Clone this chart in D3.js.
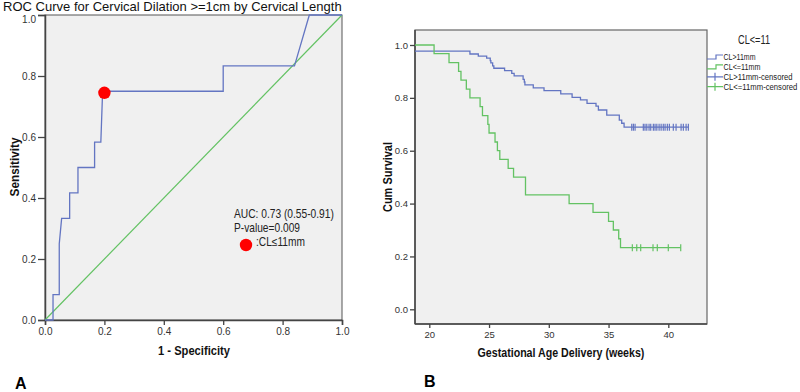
<!DOCTYPE html>
<html>
<head>
<meta charset="utf-8">
<script src="https://cdn.jsdelivr.net/npm/d3@7"></script>
<style>
  body { margin: 0; background: #fff; }
  svg { display: block; font-family: "Liberation Sans", Arial, sans-serif; }
</style>
</head>
<body>
<svg id="chart" width="800" height="392"></svg>
<script>
// ROC curve points (1 - specificity, sensitivity)
let rocFpr = [0, 0.027, 0.027, 0.048, 0.048, 0.056, 0.083, 0.083, 0.111, 0.111, 0.167, 0.167, 0.188, 0.194, 0.6, 0.6, 0.84, 0.89, 1];
let rocTpr = [0, 0, 0.083, 0.083, 0.25, 0.333, 0.333, 0.417, 0.417, 0.5, 0.5, 0.583, 0.583, 0.75, 0.75, 0.833, 0.833, 1, 1];
let cutoff = [0.2, 0.745];
let rocTicks = [0, 0.2, 0.4, 0.6, 0.8, 1.0];

// Kaplan-Meier: event times (weeks) and survival after each event
let blueStart = 0.977;
let blueTimes = [23.4, 24.1, 24.8, 25.1, 25.15, 25.3, 25.4, 26.3, 26.9, 27.1, 27.85, 27.95, 28.0, 28.7, 29.6, 31.0, 31.95, 32.65, 33.2, 33.95, 34.15, 34.85, 35.9, 36.1, 36.3];
let blueSurv = [0.966, 0.958, 0.950, 0.941, 0.932, 0.921, 0.912, 0.903, 0.893, 0.883, 0.870, 0.860, 0.849, 0.838, 0.827, 0.815, 0.802, 0.792, 0.779, 0.769, 0.754, 0.735, 0.716, 0.704, 0.689];
let blueCensored = [36.94, 37.08, 37.22, 37.91, 38.05, 38.2, 38.39, 38.53, 38.75, 38.89, 39.04, 39.23, 39.4, 39.58, 39.73, 39.92, 40.09, 40.42, 40.65, 41.07, 41.26, 41.49, 41.68];

let greenStart = 1.0;
let greenTimes = [20.4, 21.65, 22.45, 22.65, 23.1, 23.4, 24.25, 24.45, 24.9, 25.0, 25.5, 25.7, 25.9, 26.6, 27.05, 28.05, 31.7, 33.7, 35.0, 35.4, 35.85, 36.0];
let greenSurv = [0.967, 0.933, 0.9, 0.867, 0.833, 0.8, 0.767, 0.733, 0.7, 0.667, 0.633, 0.6, 0.567, 0.533, 0.5, 0.433, 0.4, 0.367, 0.333, 0.3, 0.267, 0.233];
let greenCensored = [36.99, 37.36, 37.69, 38.72, 39.08, 40.0, 41.04];

let kmXTicks = [20, 25, 30, 35, 40];
let kmYTicks = [0, 0.2, 0.4, 0.6, 0.8, 1.0];
let legendLabels = ["CL>11mm", "CL<=11mm", "CL>11mm-censored", "CL<=11mm-censored"];

let blue = "#6375c2";
let green = "#63c263";
let panelBg = "#f0f0f0";
let tickColor = "#444";

let svg = d3.select("#chart");

// place a text and squeeze it along its run so it spans the given width
function label(x, y, str, size, width, opts = {}) {
    let t = svg.append("text")
        .style("font-size", `${size}px`)
        .style("font-weight", opts.bold ? "bold" : "normal")
        .attr("fill", opts.fill || "#111")
        .attr("text-anchor", opts.anchor || "start")
        .text(str);
    let sx = width / t.node().getComputedTextLength();
    let rot = opts.rotate ? " rotate(-90)" : "";
    t.attr("transform", `translate(${x},${y})${rot} scale(${sx},1)`);
    return t;
}

// ---------- Panel A: ROC ----------
let xA = d3.scaleLinear().domain([0, 1]).range([45, 342]);
let yA = d3.scaleLinear().domain([0, 1]).range([320, 15]);

svg.append("rect")
    .attr("x", xA(0)).attr("y", yA(1))
    .attr("width", xA(1) - xA(0)).attr("height", yA(0) - yA(1))
    .attr("fill", panelBg).attr("stroke", "#555").attr("stroke-width", 1);

let axA = svg.append("g").attr("transform", `translate(0,${yA(0)})`)
    .call(d3.axisBottom(xA).tickValues(rocTicks).tickFormat(d3.format(".1f")).tickSize(5).tickPadding(3));
let ayA = svg.append("g").attr("transform", `translate(${xA(0)},0)`)
    .call(d3.axisLeft(yA).tickValues(rocTicks).tickFormat(d3.format(".1f")).tickSize(7).tickPadding(2));
[axA, ayA].forEach(g => {
    g.select(".domain").attr("stroke", "#444").attr("stroke-width", 1.5);
    g.selectAll(".tick line").attr("stroke", tickColor).attr("stroke-width", 1.3);
    g.selectAll(".tick text").attr("fill", "#333").style("font-size", "10px");
});
// the top label sits right under the title; nudge it clear
ayA.selectAll(".tick text").filter(d => d === 1).attr("y", 4.5);

svg.append("line")
    .attr("x1", xA(0)).attr("y1", yA(0)).attr("x2", xA(1)).attr("y2", yA(1))
    .attr("stroke", green).attr("stroke-width", 1.2);

let rocLine = d3.line().x(d => xA(d[0])).y(d => yA(d[1]));
svg.append("path")
    .datum(d3.zip(rocFpr, rocTpr))
    .attr("d", rocLine)
    .attr("fill", "none").attr("stroke", blue).attr("stroke-width", 1.3);

svg.append("circle")
    .attr("cx", xA(cutoff[0])).attr("cy", yA(cutoff[1])).attr("r", 6.2)
    .attr("fill", "#ff0000");

label(3, 10.8, "ROC Curve for Cervical Dilation >=1cm by Cervical Length", 12, 339);
label(19, 167, "Sensitivity", 12.5, 59, {bold: true, rotate: true, anchor: "middle"});
label(194, 355, "1 - Specificity", 13.5, 72, {bold: true, anchor: "middle"});
svg.append("text").attr("x", 15).attr("y", 389)
    .style("font-size", "16px").style("font-weight", "bold").text("A");

label(234, 218, "AUC: 0.73 (0.55-0.91)", 12, 100, {fill: "#222"});
label(234, 232, "P-value=0.009", 12, 66, {fill: "#222"});
svg.append("circle").attr("cx", 246).attr("cy", 245).attr("r", 6.2).attr("fill", "#ff0000");
label(256, 246, ":CL\u226411mm", 12, 49, {fill: "#222"});

// ---------- Panel B: Kaplan-Meier ----------
let xB = d3.scaleLinear().domain([20, 40]).range([429.3, 668.3]);
let yB = d3.scaleLinear().domain([0, 1]).range([309.3, 45]);
let boxL = 415, boxR = 707, boxT = 30, boxB = 324;

svg.append("rect")
    .attr("x", boxL).attr("y", boxT)
    .attr("width", boxR - boxL).attr("height", boxB - boxT)
    .attr("fill", panelBg).attr("stroke", "#666").attr("stroke-width", 1.2);

let axB = svg.append("g").attr("transform", `translate(0,${boxB})`)
    .call(d3.axisBottom(xB).tickValues(kmXTicks).tickSize(4).tickPadding(3));
let ayB = svg.append("g").attr("transform", `translate(${boxL},0)`)
    .call(d3.axisLeft(yB).tickValues(kmYTicks).tickFormat(d3.format(".1f")).tickSize(5).tickPadding(2));
[axB, ayB].forEach(g => {
    g.select(".domain").remove();
    g.selectAll(".tick line").attr("stroke", tickColor).attr("stroke-width", 1.3);
    g.selectAll(".tick text").attr("fill", "#333").style("font-size", "9.5px");
});
svg.append("line").attr("x1", boxL).attr("x2", boxR).attr("y1", boxB).attr("y2", boxB)
    .attr("stroke", "#444").attr("stroke-width", 1.5);
svg.append("line").attr("x1", boxL).attr("x2", boxL).attr("y1", boxT).attr("y2", boxB)
    .attr("stroke", "#444").attr("stroke-width", 1.5);

let stepLine = d3.line().x(d => xB(d[0])).y(d => yB(d[1])).curve(d3.curveStepAfter);
function kmPoints(start, times, surv, censored) {
    let pts = [[xB.invert(boxL), start]];
    times.forEach((t, i) => pts.push([t, surv[i]]));
    pts.push([d3.max(censored), surv[surv.length - 1]]);
    return pts;
}

[
    {start: blueStart, times: blueTimes, surv: blueSurv, cens: blueCensored, color: blue},
    {start: greenStart, times: greenTimes, surv: greenSurv, cens: greenCensored, color: green}
].forEach(s => {
    svg.append("path")
        .datum(kmPoints(s.start, s.times, s.surv, s.cens))
        .attr("d", stepLine)
        .attr("fill", "none").attr("stroke", s.color).attr("stroke-width", 1.3);
    let last = s.surv[s.surv.length - 1];
    svg.append("g").selectAll("line")
        .data(s.cens)
        .join("line")
        .attr("x1", d => xB(d)).attr("x2", d => xB(d))
        .attr("y1", yB(last) - 3.5).attr("y2", yB(last) + 3.5)
        .attr("stroke", s.color).attr("stroke-width", 1.2);
});

label(392, 177, "Cum Survival", 12.5, 70, {bold: true, rotate: true, anchor: "middle"});
label(561, 357, "Gestational Age Delivery (weeks)", 12.5, 167, {bold: true, anchor: "middle"});
svg.append("text").attr("x", 424).attr("y", 387)
    .style("font-size", "16px").style("font-weight", "bold").text("B");

// legend
label(754, 44, "CL<=11", 12, 32, {anchor: "middle", fill: "#222"});
let legendColors = [blue, green, blue, green];
let legendWidths = [32, 37, 69, 74];
legendLabels.forEach((d, i) => {
    let cy = 57 + i * 9.9;
    let icon = i < 2 ? `M707,${cy + 2}H716V${cy - 2}H723` : `M707,${cy}H723M715,${cy - 4}V${cy + 4}`;
    svg.append("path").attr("d", icon)
        .attr("fill", "none").attr("stroke", legendColors[i]).attr("stroke-width", 1.2);
    label(723.5, cy + 3.4, d, 9.6, legendWidths[i], {fill: "#222"});
});
</script>
</body>
</html>
